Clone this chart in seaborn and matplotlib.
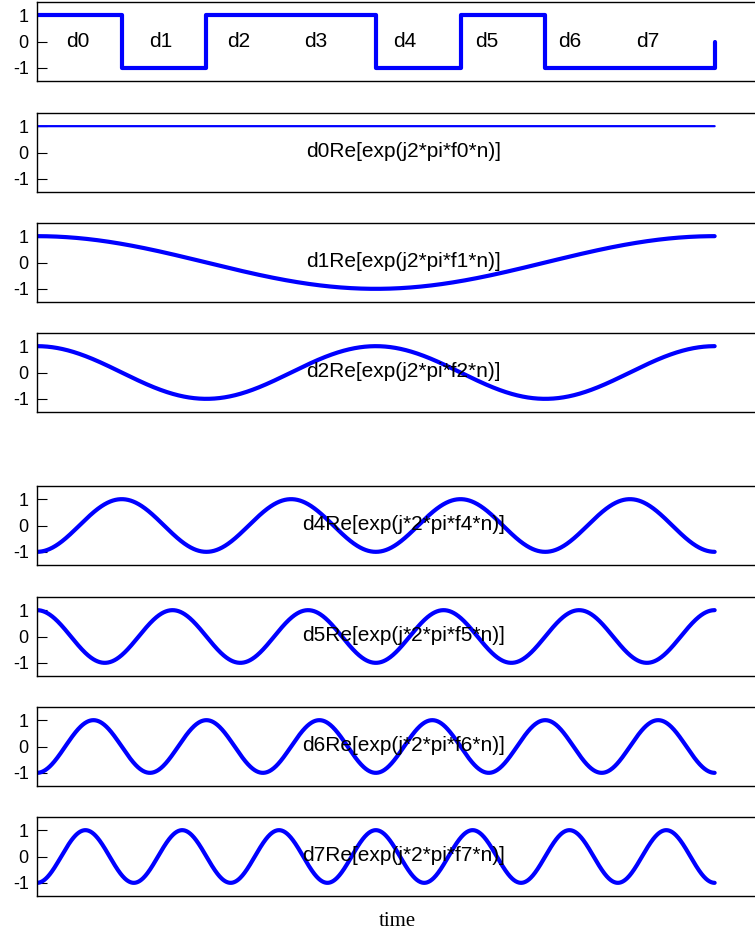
import numpy as np
import pandas as pd
import matplotlib
matplotlib.use("Agg")
import matplotlib.pyplot as plt
import seaborn as sns

# Bit sequence d0..d7 shown as a square wave (last sample returns to 0)
bits = [1, -1, 1, 1, -1, 1, -1, -1, 0]
bit_names = ["d0", "d1", "d2", "d3", "d4", "d5", "d6", "d7"]
bit_label_x = [0.48, 1.46, 2.38, 3.29, 4.34, 5.31, 6.29, 7.21]

# Subcarrier rows: frequency index and amplitude of each plotted carrier
carrier_freqs = [0, 1, 2, 4, 5, 6, 7]
carrier_amps = [1, 1, 1, -1, 1, -1, -1]
carrier_labels = [
    "d0Re[exp(j2*pi*f0*n)]",
    "d1Re[exp(j2*pi*f1*n)]",
    "d2Re[exp(j2*pi*f2*n)]",
    "d4Re[exp(j*2*pi*f4*n)]",
    "d5Re[exp(j*2*pi*f5*n)]",
    "d6Re[exp(j*2*pi*f6*n)]",
    "d7Re[exp(j*2*pi*f7*n)]",
]
yticks = [-1, 0, 1]
n_symbols = 8

sns.set_style("ticks")
plt.rcParams["font.family"] = ["Liberation Sans", "DejaVu Sans"]
plt.rcParams["axes.unicode_minus"] = False
plt.rcParams["text.color"] = "black"

W, H = 755, 934
fig = plt.figure(figsize=(W / 100, H / 100), dpi=100)

tops = [2, 113, 223, 333, 486, 597, 707, 817]
ax_h = 79
left, right = 37, 757
blue = (0, 0, 1)


def make_axes(top):
    ax = fig.add_axes([left / W, 1 - (top + ax_h) / H, (right - left) / W, ax_h / H])
    ax.set_xlim(0, 8.5)
    ax.set_ylim(-1.5, 1.5)
    ax.set_xticks([])
    ax.set_yticks(yticks)
    ax.set_yticklabels([str(v) for v in yticks])
    ax.tick_params(axis="y", direction="in", length=7, width=0.8, labelsize=13,
                   pad=6, left=True, right=False, colors="black")
    for s in ax.spines.values():
        s.set_visible(True)
        s.set_linewidth(1.0)
        s.set_color("black")
    return ax


# Row 1: square wave of the data bits
ax = make_axes(tops[0])
sq = pd.DataFrame({"t": np.arange(len(bits)), "v": bits})
sns.lineplot(data=sq, x="t", y="v", ax=ax, color=blue, lw=3.0,
             drawstyle="steps-post", estimator=None)
for name, xx in zip(bit_names, bit_label_x):
    ax.text(xx, 0, name, ha="center", va="center", fontsize=15, color="black")
ax.set_xlabel("")
ax.set_ylabel("")

# Carrier rows
t = np.linspace(0, n_symbols, 1601)
for i, (f, a, lab) in enumerate(zip(carrier_freqs, carrier_amps, carrier_labels)):
    ax = make_axes(tops[i + 1])
    df = pd.DataFrame({"t": t, "v": a * np.cos(2 * np.pi * f * t / n_symbols)})
    sns.lineplot(data=df, x="t", y="v", ax=ax, color=blue,
                 lw=1.6 if f == 0 else 3.0, estimator=None)
    ax.text(4.33, 0.02, lab, ha="center", va="center", fontsize=15, color="black")
    ax.set_xlabel("")
    ax.set_ylabel("")

fig.text((left + right) / 2 / W, 1 - 922 / H, "time", ha="center", va="center",
         fontsize=15, color="black", family=["Liberation Serif", "DejaVu Serif"])

fig.savefig("out.png", dpi=100)
